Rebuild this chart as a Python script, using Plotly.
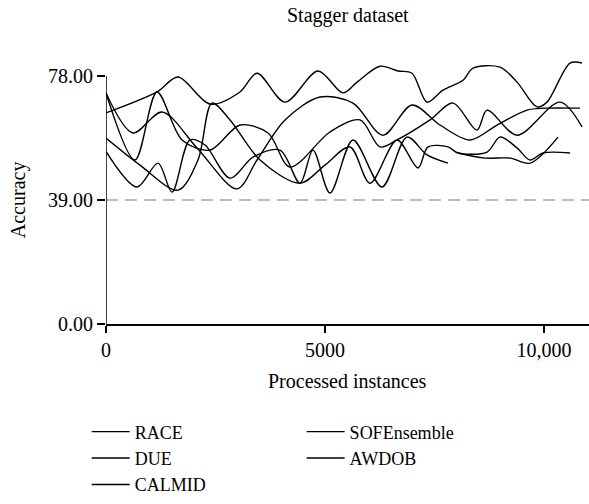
import plotly.graph_objects as go

# ---- data ----
race_x = [0, 1164, 1644, 2374, 3059, 3447, 4087, 4840, 5411, 5731, 6256, 6667, 6986, 7329, 7694, 8151, 8379, 8995, 9384, 9840, 10068, 10594, 10868]
race_y = [66.4, 73.0, 77.7, 69.2, 73.0, 78.9, 69.8, 79.6, 72.7, 76.1, 81.1, 79.6, 78.9, 69.8, 73.6, 76.7, 80.5, 80.8, 76.1, 68.3, 69.8, 82.1, 82.1]

due_x = [0, 616, 1279, 2078, 2991, 3447, 4087, 4886, 5639, 6324, 6986, 7626, 8311, 8927, 9612, 10023, 10822]
due_y = [72.7, 60.1, 66.7, 55.4, 42.5, 51.6, 64.2, 71.4, 69.5, 59.4, 68.9, 62.6, 57.9, 62.6, 67.3, 67.9, 67.9]

calmid_x = [0, 708, 1187, 1507, 1918, 2260, 2831, 3356, 3973, 4429, 4726, 5114, 5639, 6301, 6872, 7329, 7808]
calmid_y = [54.3, 43.1, 50.6, 41.5, 57.9, 56.3, 45.9, 52.5, 54.7, 44.3, 54.7, 41.2, 57.9, 43.1, 58.8, 53.2, 50.6]

sof_x = [0, 776, 1644, 2100, 2420, 2831, 3516, 4429, 5000, 5571, 6027, 6644, 7123, 7352, 7808, 8037, 8699, 8995, 9384, 9680, 9977, 10594]
sof_y = [58.5, 50.0, 42.1, 51.6, 69.5, 64.2, 51.6, 44.3, 50.0, 55.7, 44.3, 57.9, 49.1, 55.7, 55.7, 53.8, 54.1, 58.8, 55.4, 51.6, 53.8, 53.8]

awdob_x = [0, 662, 1164, 1735, 2374, 3059, 3699, 4201, 5114, 5799, 6256, 6644, 7397, 7922, 8470, 8699, 9384, 10365, 10868]
awdob_y = [72.7, 51.6, 73.0, 57.9, 54.7, 62.6, 60.1, 49.4, 60.4, 64.2, 55.7, 57.9, 64.2, 69.5, 61.0, 67.3, 59.4, 69.8, 62.0]

# extra branch visible at the right end (drawn without its own legend entry)
branch_x = [8037, 8653, 9224, 9680, 10320]
branch_y = [53.8, 52.2, 52.2, 50.6, 58.8]

x_ticks = [0, 5000, 10000]
x_ticklabels = ["0", "5000", "10,000"]
y_ticks = [0, 39, 78]
y_ticklabels = ["0.00", "39.00", "78.00"]
ref_level = 39

FONT = "Liberation Serif"
fig = go.Figure()

line_style = dict(color="black", width=1.4, shape="spline", smoothing=0.9)

fig.add_trace(go.Scatter(x=race_x, y=race_y, mode="lines", name="RACE", line=line_style, legend="legend"))
fig.add_trace(go.Scatter(x=due_x, y=due_y, mode="lines", name="DUE", line=line_style, legend="legend"))
fig.add_trace(go.Scatter(x=calmid_x, y=calmid_y, mode="lines", name="CALMID", line=line_style, legend="legend"))
fig.add_trace(go.Scatter(x=sof_x, y=sof_y, mode="lines", name="SOFEnsemble", line=line_style, legend="legend2"))
fig.add_trace(go.Scatter(x=awdob_x, y=awdob_y, mode="lines", name="AWDOB", line=line_style, legend="legend2"))
fig.add_trace(go.Scatter(x=branch_x, y=branch_y, mode="lines", name="SOFEnsemble", line=line_style,
                         showlegend=False, legendgroup="sof"))

# reference dashed line
fig.add_shape(type="line", xref="paper", yref="y", x0=0, x1=1, y0=ref_level, y1=ref_level,
              line=dict(color="#a6a6a6", width=1.5, dash="12px,7px"), layer="below")
# y-axis line only spans 0..78
fig.add_shape(type="line", xref="x", yref="y", x0=0, x1=0, y0=y_ticks[0], y1=y_ticks[-1],
              line=dict(color="black", width=1.5))

legend_common = dict(yanchor="top", orientation="v", xanchor="left",
                     font=dict(family=FONT, size=18), bgcolor="rgba(0,0,0,0)",
                     tracegroupgap=0, itemwidth=38)

fig.update_layout(
    width=589, height=504,
    margin=dict(l=106, r=0, t=57, b=180),
    paper_bgcolor="white", plot_bgcolor="white",
    font=dict(family=FONT, size=20, color="black"),
    showlegend=True,
    legend=dict(x=-0.04, y=-0.335, **legend_common),
    legend2=dict(x=0.405, y=-0.335, **legend_common),
    xaxis=dict(range=[0, 11027], tickvals=x_ticks, ticktext=x_ticklabels, showgrid=False, zeroline=False,
               showline=True, linecolor="black", linewidth=1.5, ticks="outside", ticklen=7,
               tickwidth=1.5, tickcolor="black", tickfont=dict(size=20)),
    yaxis=dict(range=[0, 84], tickvals=y_ticks, ticktext=y_ticklabels, showgrid=False, zeroline=False,
               showline=False, ticks="outside", ticklen=8, tickwidth=1.5, tickcolor="black",
               tickfont=dict(size=20)),
    annotations=[
        dict(text="Stagger dataset", xref="paper", yref="paper", x=0.5, y=1.157, showarrow=False,
             xanchor="center", yanchor="middle", font=dict(size=20)),
        dict(text="Processed instances", xref="paper", yref="paper", x=0.5, y=-0.215, showarrow=False,
             xanchor="center", yanchor="middle", font=dict(size=20)),
        dict(text="Accuracy", xref="paper", yref="paper", x=-0.182, y=0.464, showarrow=False,
             xanchor="center", yanchor="middle", textangle=-90, font=dict(size=20)),
    ],
)

fig.write_html("out.html")
